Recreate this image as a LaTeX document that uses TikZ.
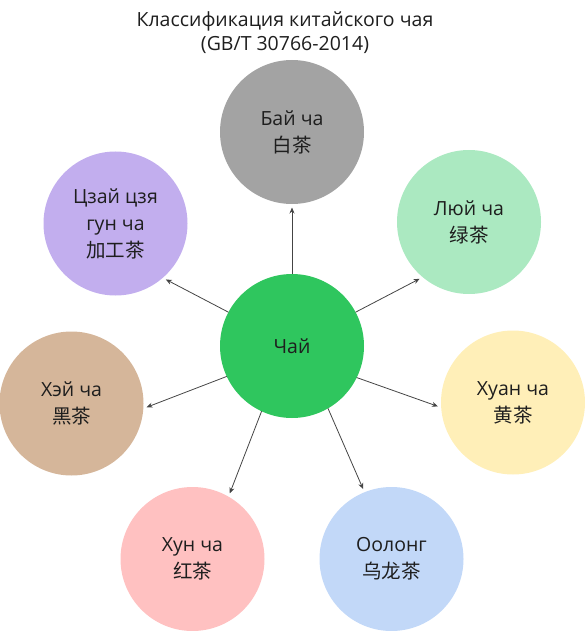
\documentclass[tikz,border=0pt]{standalone}
\usepackage{fontspec}
\setmainfont{Open Sans}
\newfontfamily\cjk{Noto Sans CJK SC}
\usetikzlibrary{arrows.meta}
\definecolor{txt}{HTML}{1E1E1E}
\definecolor{lnk}{HTML}{444444}
\definecolor{cGreen}{HTML}{2FC65E}
\definecolor{cGray}{HTML}{A3A3A3}
\definecolor{cLgreen}{HTML}{ABE9C1}
\definecolor{cYellow}{HTML}{FFEFB8}
\definecolor{cBlue}{HTML}{C2D8F8}
\definecolor{cPink}{HTML}{FFC1C1}
\definecolor{cTan}{HTML}{D5B69A}
\definecolor{cLav}{HTML}{C2AEEE}
\begin{document}
\begin{tikzpicture}[x=1pt,y=-1pt,
  tea/.style={circle, minimum size=144pt, inner sep=0pt, outer sep=0pt, align=center,
    font=\fontsize{19.5}{27}\selectfont, text=txt},
  link/.style={draw=lnk, line width=0.8pt, -{Stealth[length=6pt,width=5pt]}, shorten >=3.5pt},
  ttl/.style={align=center, font=\fontsize{19.5}{24}\selectfont, text=txt, inner sep=0pt}]
\useasboundingbox (0,0) rectangle (584,631);
\node[ttl] (title) at (285,33) {Классификация китайского чая\\(GB/T 30766-2014)};
\node[tea, fill=cGreen] (c) at (292,346) {Чай};
\node[tea, fill=cGray] (bai) at (292,132) {Бай ча\\{\cjk 白茶}};
\node[tea, fill=cLgreen] (lyu) at (469,222) {Люй ча\\{\cjk 绿茶}};
\node[tea, fill=cYellow] (huan) at (513,402.5) {Хуан ча\\{\cjk 黄茶}};
\node[tea, fill=cBlue] (ool) at (391.5,559) {Оолонг\\{\cjk 乌龙茶}};
\node[tea, fill=cPink] (hun) at (192.5,559) {Хун ча\\{\cjk 红茶}};
\node[tea, fill=cTan] (hei) at (71.5,403.5) {Хэй ча\\{\cjk 黑茶}};
\node[tea, fill=cLav] (czai) at (115.5,223.5) {Цзай цзя\\гун ча\\{\cjk 加工茶}};
\draw[link] (c.90) -- (bai.270);
\draw[link] (c.28.7) -- (lyu.230.4);
\draw[link] (c.334.8) -- (huan.184);
\draw[link] (c.300.7) -- (ool.112.8);
\draw[link] (c.245.2) -- (hun.60.4);
\draw[link] (c.205.5) -- (hei.356);
\draw[link] (c.152) -- (czai.311.8);
\end{tikzpicture}
\end{document}
